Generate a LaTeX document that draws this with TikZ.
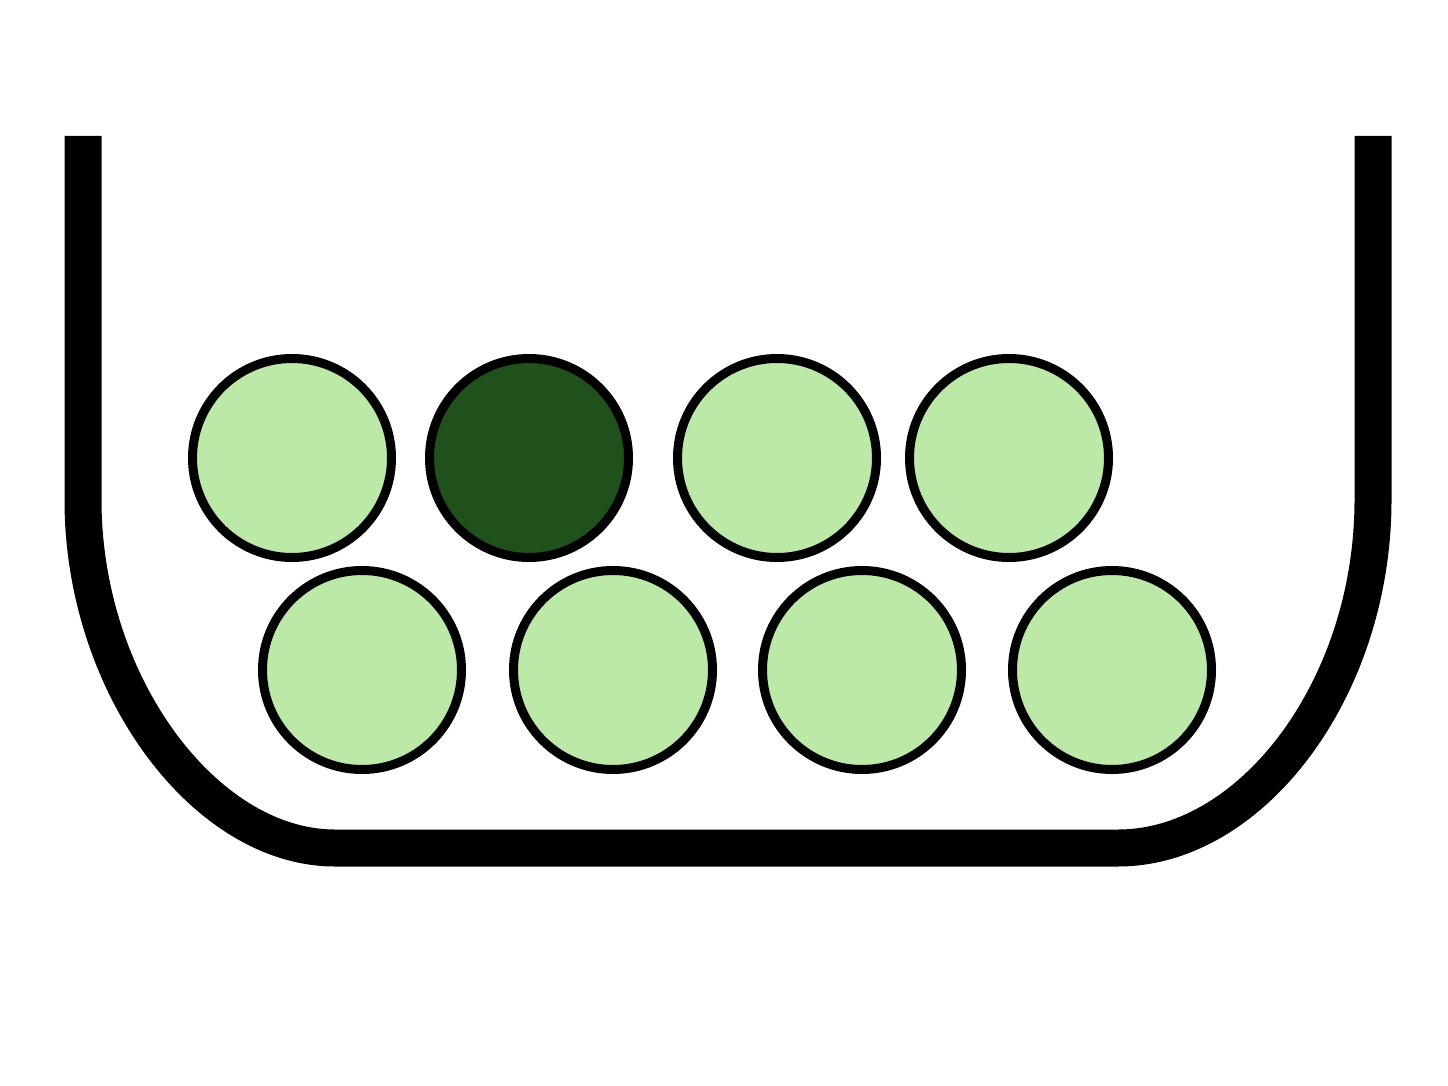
\documentclass[tikz,border=0pt]{standalone}
\definecolor{lightgreen}{HTML}{BDE9A8}
\definecolor{darkgreen}{HTML}{20501C}
\begin{document}
\begin{tikzpicture}[x=1pt,y=-1pt,
  ball/.style={circle,draw=black,line width=9pt,line join=round,fill=lightgreen,minimum size=199pt,inner sep=0pt},
  darkball/.style={ball,fill=darkgreen},
  bowl/.style={draw=black,line width=37pt,line cap=butt,line join=round}]
\path[fill=white] (0,0) rectangle (1448,1086);
\useasboundingbox (0,0) rectangle (1448,1086);
\draw[bowl] (83,136) -- (83,500) .. controls (83,685) and (205,848) .. (335,848) -- (1118,848) .. controls (1252,848) and (1373,688) .. (1373,500) -- (1373,136);
\node[ball] (t1) at (292,458) {};
\node[darkball] (t2) at (529,458) {};
\node[ball] (t3) at (777,458) {};
\node[ball] (t4) at (1009,458) {};
\node[ball] (b1) at (362,670) {};
\node[ball] (b2) at (613,670) {};
\node[ball] (b3) at (862,670) {};
\node[ball] (b4) at (1112,670) {};
\end{tikzpicture}
\end{document}
